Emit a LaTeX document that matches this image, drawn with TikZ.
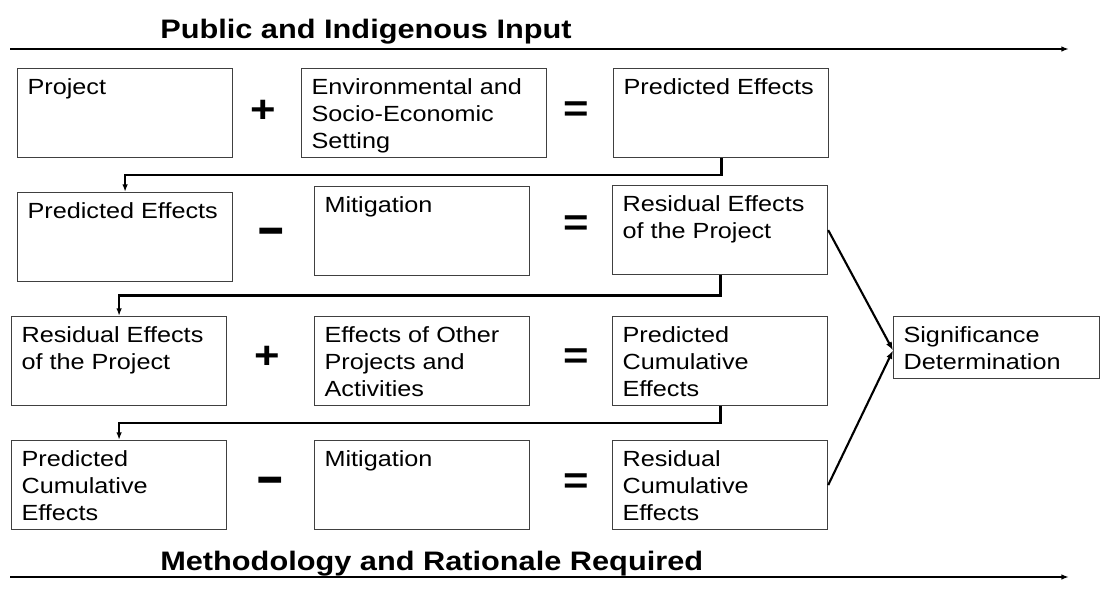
\documentclass[tikz,border=0pt]{standalone}
\usepackage{fontspec}
\usepackage{graphicx}
\setmainfont[FakeStretch=1.15]{Liberation Sans}
\usetikzlibrary{arrows.meta}
\usetikzlibrary{calc}
\tikzstyle{stage}=[draw=black!75, line width=0.8pt, inner xsep=0.25cm, inner ysep=0.175cm, anchor=north west, font=\fontsize{15.6pt}{19.2pt}\selectfont]
\tikzstyle{op}=[anchor=base, inner sep=0pt, font=\fontsize{27pt}{30pt}\selectfont\bfseries]
\tikzstyle{heading}=[anchor=base west, inner sep=0pt, font=\fontsize{19pt}{22pt}\selectfont\bfseries]
\tikzstyle{axis}=[line width=1.4pt, -{Latex[length=5.5pt,width=4pt]}]
\tikzstyle{flow}=[line width=2pt, -{Latex[length=5.5pt,width=4pt]}]
\tikzstyle{feed}=[line width=1.5pt, -{Latex[length=6pt,width=4.5pt]}]
\newcommand{\stagetext}[3]{\parbox[t][#2][t]{#1}{\raggedright\strut #3}}
\newcommand{\stdbox}[1]{\stagetext{4.875cm}{1.875cm}{#1}}
\newcommand{\minussign}{\scalebox{1.05}[1.6]{\textendash}}

\begin{document}
\begin{tikzpicture}[x=0.025cm, y=-0.025cm]
    \useasboundingbox (0,0) rectangle (1100,595);
    % headings and their arrows
    \node[heading] (input) at (160,38) {Public and Indigenous Input};
    \node[heading] (method) at (160,570) {Methodology and Rationale Required};
    \coordinate (inS) at (10,49);
    \coordinate (inE) at (1069,49);
    \coordinate (meS) at (10,577);
    \coordinate (meE) at (1069,577);
    \draw[axis] (inS) -- (inE);
    \draw[axis] (meS) -- (meE);

    % row 1
    \node[stage] (proj) at (17,68) {\stdbox{Project}};
    \node[op]    (plus1) at (263,122) {+};
    \node[stage] (env) at (301,68) {\stagetext{5.625cm}{1.875cm}{Environmental and\\Socio-Economic\\Setting}};
    \node[op]    (eq1) at (576,121) {=};
    \node[stage] (pe1) at (613,68) {\stdbox{Predicted Effects}};

    % row 2
    \node[stage] (pe2) at (17,192) {\stdbox{Predicted Effects}};
    \node[op]    (minus1) at (271,247) {\minussign};
    \node[stage] (mit1) at (314,186) {\stdbox{Mitigation}};
    \node[op]    (eq2) at (576,235) {=};
    \node[stage] (res1) at (612,185) {\stdbox{Residual Effects\\of the Project}};

    % row 3
    \node[stage] (res2) at (11,316) {\stdbox{Residual Effects\\of the Project}};
    \node[op]    (plus2) at (267,368) {+};
    \node[stage] (oth) at (314,316) {\stdbox{Effects of Other\\Projects and\\Activities}};
    \node[op]    (eq3) at (576,368) {=};
    \node[stage] (pce1) at (612,316) {\stdbox{Predicted\\Cumulative\\Effects}};

    % row 4
    \node[stage] (pce2) at (11,440) {\stdbox{Predicted\\Cumulative\\Effects}};
    \node[op]    (minus2) at (270,496) {\minussign};
    \node[stage] (mit2) at (314,440) {\stdbox{Mitigation}};
    \node[op]    (eq4) at (576,493) {=};
    \node[stage] (rce) at (612,440) {\stdbox{Residual\\Cumulative\\Effects}};

    \node[stage] (sig) at (893,316) {\stagetext{4.65cm}{1.2cm}{Significance\\Determination}};

    % carry results down to the next row
    \draw[flow] (pe1.south) |- ($(pe1.south)!0.5!(pe2.north)$) -| (pe2.north);
    \draw[flow] (res1.south) |- ($(res1.south)!0.5!(res2.north)$) -| (res2.north);
    \draw[flow] (pce1.south) |- ($(pce1.south)!0.5!(pce2.north)$) -| (pce2.north);

    \draw[feed] (res1.east) -- ([yshift=-2pt]sig.west);
    \draw[feed] (rce.east) -- ([yshift=-2pt]sig.west);
\end{tikzpicture}
\end{document}
